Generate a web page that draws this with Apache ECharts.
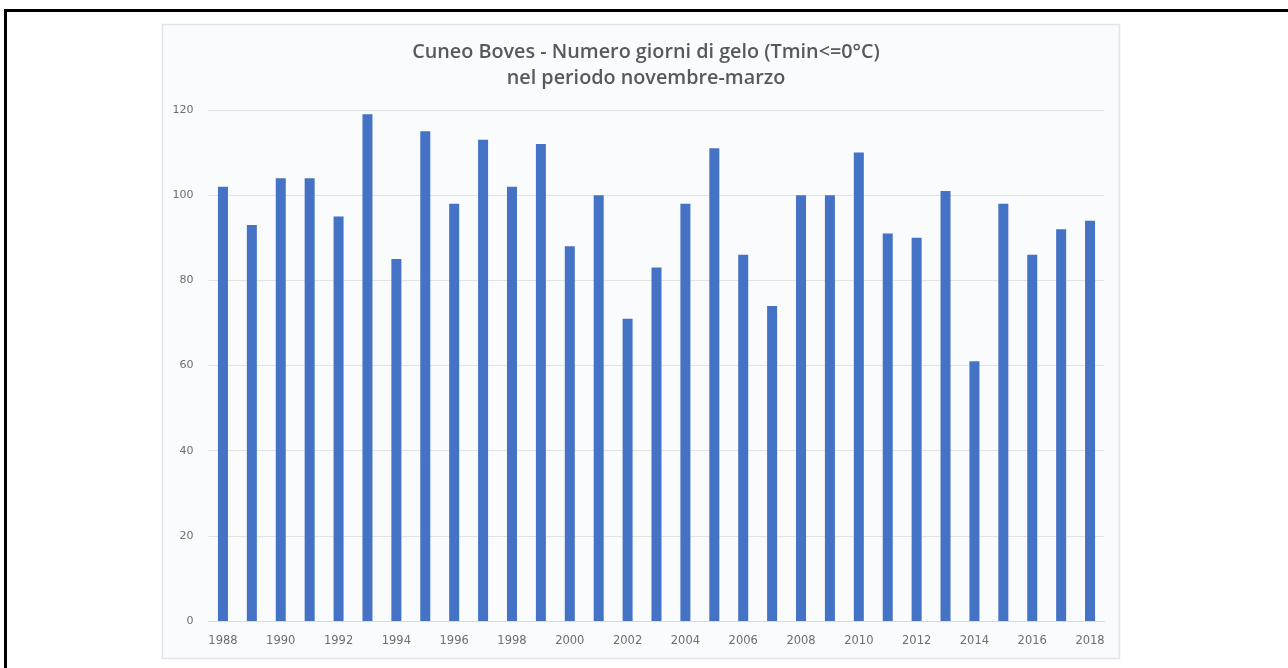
<!DOCTYPE html>
<html>
<head>
<meta charset="utf-8">
<script src="https://cdn.jsdelivr.net/npm/echarts@6/dist/echarts.min.js"></script>
<style>
html,body{margin:0;padding:0;background:#fff;}
#c{width:1288px;height:668px;}
</style>
</head>
<body>
<div id="c"></div>
<script>
const years = ['1988','1989','1990','1991','1992','1993','1994','1995','1996','1997','1998','1999','2000','2001','2002','2003','2004','2005','2006','2007','2008','2009','2010','2011','2012','2013','2014','2015','2016','2017','2018'];
const frostDays = [102,93,104,104,95,119,85,115,98,113,102,112,88,100,71,83,98,111,86,74,100,100,110,91,90,101,61,98,86,92,94];
const titleLines = ['Cuneo Boves - Numero giorni di gelo (Tmin<=0°C)','nel periodo novembre-marzo'];

const chart = echarts.init(document.getElementById('c'), null, {renderer:'canvas'});
chart.setOption({
  animation:false,
  backgroundColor:'#ffffff',
  graphic:[
    {type:'rect', z:-10, silent:true, shape:{x:5.5,y:10.5,width:1300,height:700}, style:{fill:'#ffffff',stroke:'#000000',lineWidth:3}},
    {type:'rect', z:-5, silent:true, shape:{x:162.5,y:24.5,width:957,height:634}, style:{fill:'#f9fbfd',stroke:'#e1e5ea',lineWidth:1.5}}
  ],
  title:{
    text: titleLines.join('\n'),
    left:641, top:34, textAlign:'center',
    textStyle:{fontFamily:'Open Sans', fontWeight:600, fontSize:19.8, color:'#595959', lineHeight:26}
  },
  grid:{left:208.5, right:183.5, top:110, bottom:47, containLabel:false},
  xAxis:{
    type:'category', data:years,
    axisLine:{lineStyle:{color:'#d9d9d9'}},
    axisTick:{show:false},
    axisLabel:{interval:1, color:'#6e6e6e', fontFamily:'DejaVu Sans', fontSize:11.5, margin:14}
  },
  yAxis:{
    type:'value', min:0, max:120, interval:20,
    axisLine:{show:false}, axisTick:{show:false},
    splitLine:{lineStyle:{color:'#e2e2e2'}},
    axisLabel:{color:'#6e6e6e', fontFamily:'DejaVu Sans', fontSize:11, margin:15}
  },
  series:[{
    type:'bar', data:frostDays, barWidth:10,
    itemStyle:{color:'#4472c4'}
  }]
});
</script>
</body>
</html>
